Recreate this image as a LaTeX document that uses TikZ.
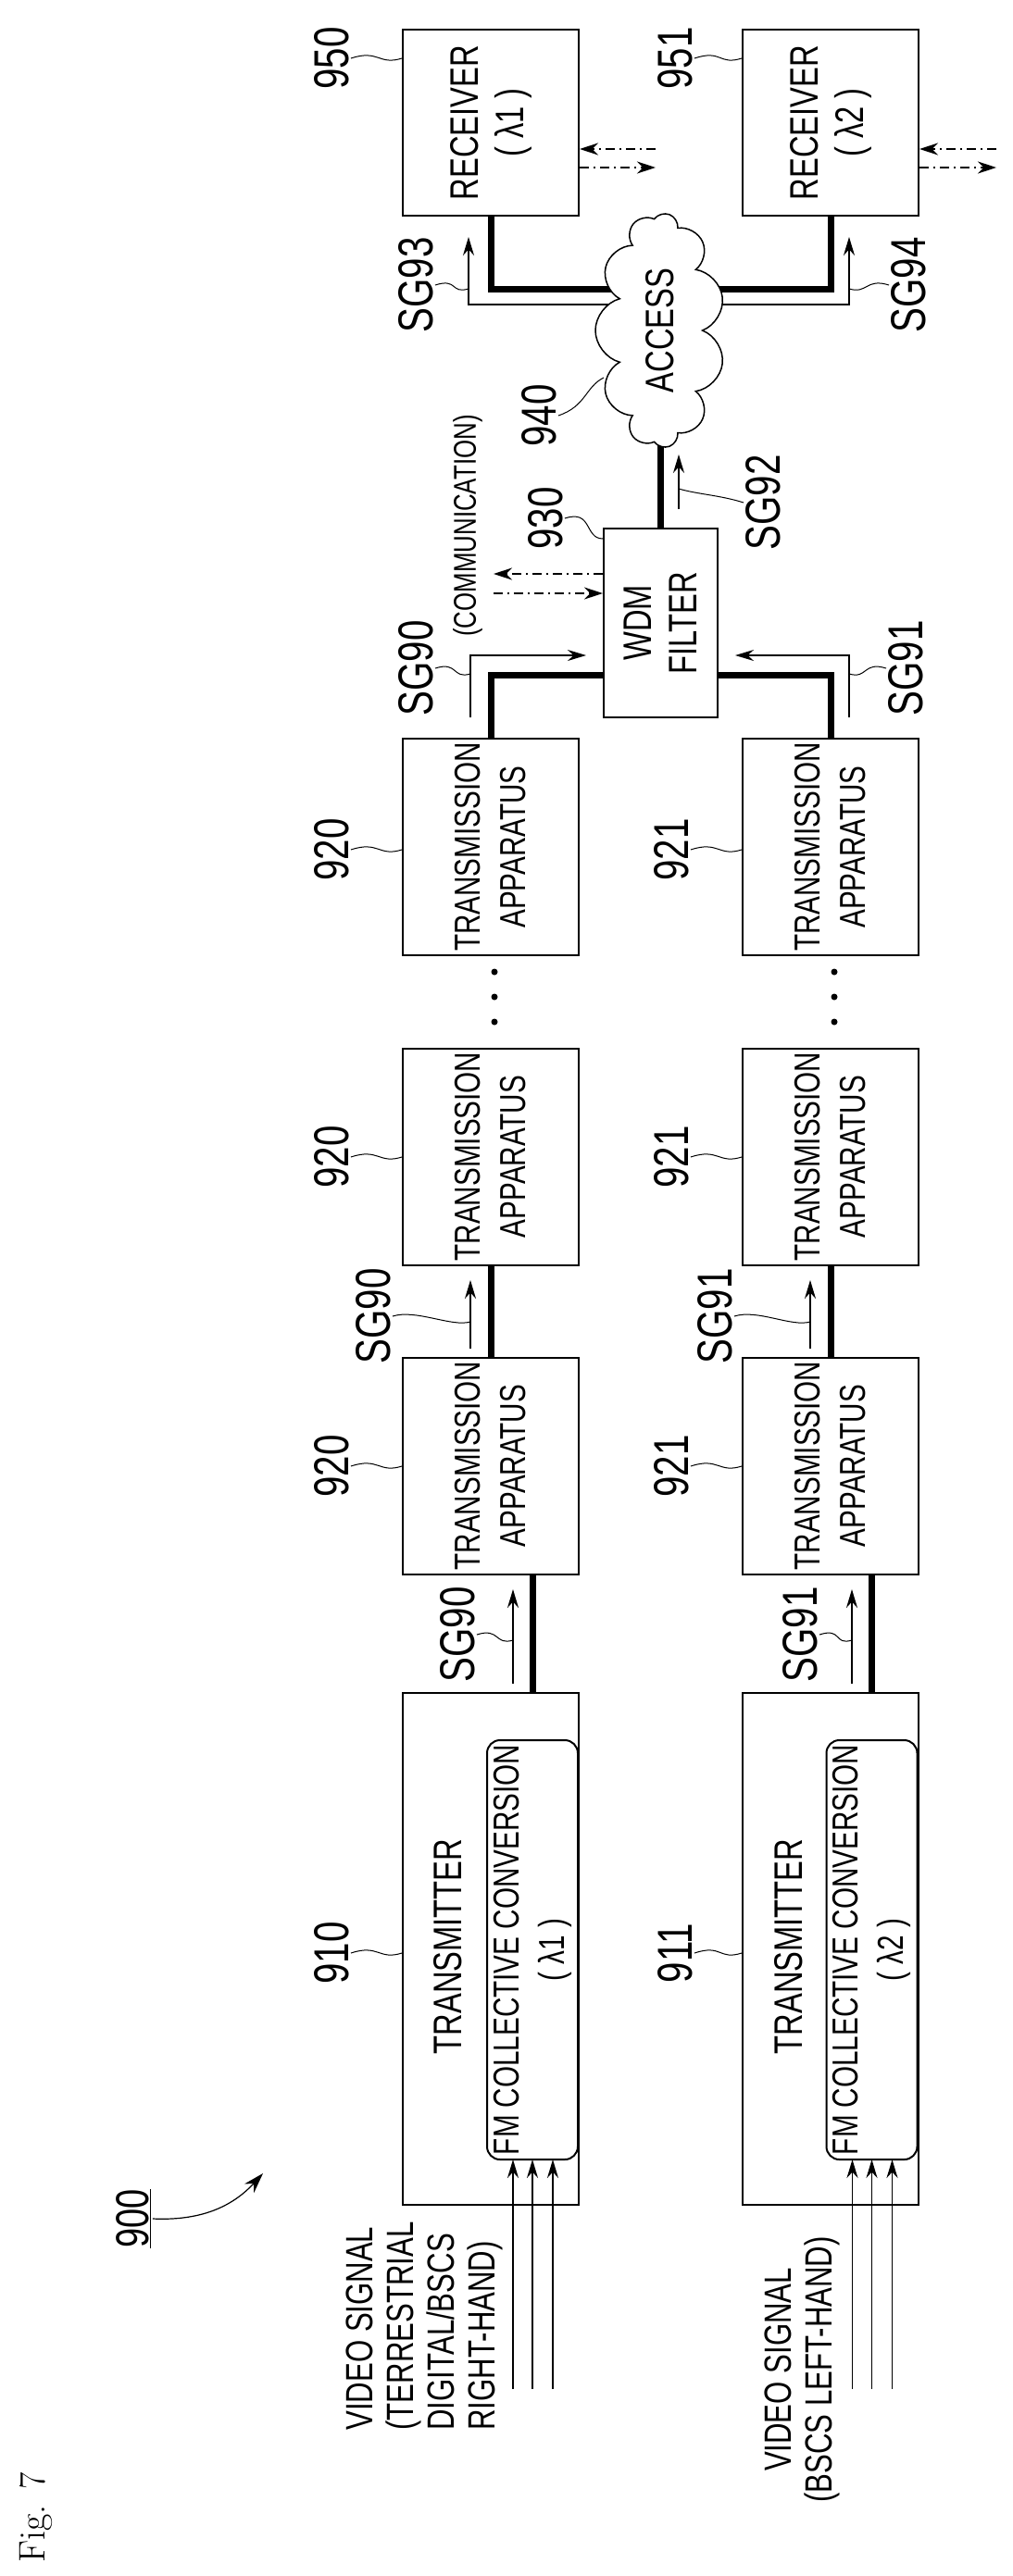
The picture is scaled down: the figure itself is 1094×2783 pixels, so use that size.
\documentclass[tikz,border=0pt]{standalone}
\usepackage{fontspec}
\usetikzlibrary{arrows.meta,shapes.symbols,backgrounds}
\newfontfamily\nar[FakeStretch=0.76]{Liberation Sans}
\tikzset{
  box/.style={draw, line width=2pt, fill=white, rotate=90, inner sep=0pt,
    align=center, font=\nar\fontsize{39}{49}\selectfont},
  txt/.style={rotate=90, inner sep=2pt, font=\nar\fontsize{43}{50}\selectfont},
  lbl/.style={rotate=90, inner sep=2pt, font=\nar\fontsize{53}{60}\selectfont},
  lead/.style={line width=1pt},
  thk/.style={line width=7pt},
  sig/.style={line width=1.6pt, -{Stealth[length=20pt,width=12pt]}},
  comm/.style={line width=1.6pt, dash pattern=on 10pt off 5pt on 2pt off 5pt,
    -{Stealth[length=20pt,width=13pt]}},
}
\begin{document}
\begin{tikzpicture}[x=1pt, y=-1pt]
    \useasboundingbox (0,0) rectangle (1094,2783);
    % receivers and access network
    \node[box, minimum width=201, minimum height=190, font=\nar\fontsize{43}{49}\selectfont] (rx950) at (530,132.5) {RECEIVER\\( λ1 )};
    \node[box, minimum width=201, minimum height=190, font=\nar\fontsize{43}{49}\selectfont] (rx951) at (897,132.5) {RECEIVER\\( λ2 )};
    \node[cloud, cloud puffs=11, cloud ignores aspect, draw, line width=1.5pt, fill=white,
      minimum width=253, minimum height=140, rotate=90, font=\nar\fontsize{43}{49}\selectfont] (acc) at (713,357) {ACCESS};
    \node[box, minimum width=204, minimum height=123, font=\nar\fontsize{43}{49}\selectfont] (wdm) at (713.5,673) {WDM\\FILTER};
    % transmission apparatus chains
    \foreach \nm/\cx in {920/530,921/897} {
        \node[box, minimum width=234, minimum height=190] (ta\nm c) at (\cx,915) {TRANSMISSION\\APPARATUS};
        \node[box, minimum width=234, minimum height=190] (ta\nm b) at (\cx,1249.5) {TRANSMISSION\\APPARATUS};
        \node[box, minimum width=234, minimum height=190] (ta\nm a) at (\cx,1583.5) {TRANSMISSION\\APPARATUS};
        \foreach \dy in {1050,1077,1104}
            \fill (\cx+4,\dy) circle (3.5);
        \node[lbl] (l\nm a) at (\cx-172,1584) {\nm};
        \node[lbl] (l\nm b) at (\cx-172,1250) {\nm};
        \node[lbl] (l\nm c) at (\cx-172,918) {\nm};
        \foreach \k in {a,b,c}
            \draw[lead] (l\nm\k.south) .. controls +(30,-10) and +(-25,8) .. (ta\nm\k.north |- l\nm\k);
    }
    % transmitters
    \node[box, minimum width=553, minimum height=190] (tr910) at (530,2105.5) {};
    \node[box, minimum width=553, minimum height=190] (tr911) at (897,2105.5) {};
    \node[box, rounded corners=14pt, minimum width=453, minimum height=98] (fm910) at (575,2106.5) {FM COLLECTIVE CONVERSION\\( λ1 )};
    \node[box, rounded corners=14pt, minimum width=453, minimum height=98] (fm911) at (941.5,2106.5) {FM COLLECTIVE CONVERSION\\( λ2 )};
    \node[txt] (t910) at (484,2103) {TRANSMITTER};
    \node[txt] (t911) at (852,2103) {TRANSMITTER};
    \node[lbl] (l910) at (358,2110) {910};
    \node[lbl] (l911) at (729,2110) {911};
    \draw[lead] (l910.south) .. controls +(30,-10) and +(-25,8) .. (tr910.north |- l910);
    \draw[lead] (l911.south) .. controls +(30,-10) and +(-25,8) .. (tr911.north |- l911);
    % video inputs
    \foreach \cx in {575,941.5}
        \foreach \dx in {-21,0,22}
            \draw[sig] (\cx+\dx,2581) -- (\cx+\dx,2333);
    \node[txt, align=left, font=\nar\fontsize{41}{44}\selectfont] (v910) at (458,2513) {VIDEO SIGNAL\\(TERRESTRIAL\\DIGITAL/BSCS\\RIGHT-HAND)};
    \node[txt, align=center, font=\nar\fontsize{41}{44}\selectfont] (v911) at (866,2560) {VIDEO SIGNAL\\(BSCS LEFT-HAND)};
    % other labels
    \node[lbl] (l950) at (358,63) {950};
    \node[lbl] (l951) at (729,63) {951};
    \node[lbl] (l930) at (589,560) {930};
    \node[lbl] (l940) at (582,449) {940};
    \node[txt, font=\nar\fontsize{34}{40}\selectfont] (comm) at (505,568) {(COMMUNICATION)};
    \draw[lead] (l950.south) .. controls +(30,-10) and +(-25,8) .. (rx950.north |- l950);
    \draw[lead] (l951.south) .. controls +(30,-10) and +(-25,8) .. (rx951.north |- l951);
    \draw[lead] (l930.south) .. controls +(30,-10) and +(-20,0) .. (wdm.north |- 0,582);
    \draw[lead] (l940.south) .. controls +(30,-10) and +(-20,10) .. (652,408);
    \node[lbl] (s90a) at (494,1766) {SG90};
    \node[lbl] (s90b) at (403,1422) {SG90};
    \node[lbl] (s90c) at (449,722) {SG90};
    \node[lbl] (s91a) at (864,1766) {SG91};
    \node[lbl] (s91b) at (772,1422) {SG91};
    \node[lbl] (s91c) at (978,722) {SG91};
    \node[lbl] (s92) at (824,543) {SG92};
    \node[lbl] (s93) at (449,308) {SG93};
    \node[lbl] (s94) at (981,308) {SG94};
    \draw[lead] (s90a.south) .. controls +(25,-8) and +(-20,6) .. (554,1772);
    \draw[lead] (s90b.south) .. controls +(25,-8) and +(-20,6) .. (508,1428);
    \draw[lead] (s90c.south) .. controls +(25,-8) and +(-20,6) .. (508,728);
    \draw[lead] (s91a.south) .. controls +(25,-8) and +(-20,6) .. (920,1772);
    \draw[lead] (s91b.south) .. controls +(25,-8) and +(-20,6) .. (875,1428);
    \draw[lead] (s91c.north) .. controls +(-25,-8) and +(20,6) .. (917,728);
    \draw[lead] (s92.north) .. controls +(-25,-8) and +(20,6) .. (733,528);
    \draw[lead] (s93.south) .. controls +(25,-8) and +(-20,6) .. (506,312);
    \draw[lead] (s94.north) .. controls +(-25,-8) and +(20,6) .. (917,312);
    % figure labels
    \node[lbl, font=\nar\fontsize{50}{56}\selectfont] (l900) at (144,2397) {\underline{900}};
    \coordinate (c900) at (284,2348);
    \draw[line width=1.2pt, -{Stealth[length=22pt,width=14pt]}] (l900.south) to[bend right=25] (c900);
    \node[rotate=90, font=\fontsize{40}{44}\selectfont] (fig) at (39,2720) {Fig. 7};
    % connections
    \begin{scope}[on background layer]
        \draw[thk] (fm910.east) -- (fm910.east |- ta920a.west);
        \draw[thk] (fm911.east) -- (fm911.east |- ta921a.west);
        \draw[thk] (ta920a.east) -- (ta920b.west);
        \draw[thk] (ta921a.east) -- (ta921b.west);
        \draw[thk] (ta920c.east) |- (wdm |- 0,729);
        \draw[thk] (ta921c.east) |- (wdm |- 0,729);
        \draw[thk] (wdm.east) -- (wdm.center |- acc.center);
        \draw[thk] (rx950.west) |- (acc |- 0,312);
        \draw[thk] (rx951.west) |- (acc |- 0,312);
        \draw[sig] (acc |- 0,329) -| (506,256);
        \draw[sig] (acc |- 0,329) -| (917,256);
    \end{scope}
    \draw[sig] (554,1819) -- (554,1717);
    \draw[sig] (508,1457) -- (508,1383);
    \draw[sig] (920,1819) -- (920,1717);
    \draw[sig] (875,1457) -- (875,1383);
    \draw[sig] (733,550) -- (733,491);
    \draw[sig, shorten >=18pt] (508,775) |- (wdm.north |- 0,708);
    \draw[sig, shorten >=18pt] (917,775) |- (wdm.south |- 0,708);
    % communication lines
    \coordinate (cw1) at (533,620);
    \coordinate (cw2) at (533,641);
    \draw[comm] (wdm.north |- cw1) -- (cw1);
    \draw[comm] (cw2) -- (wdm.north |- cw2);
    \coordinate (cr1) at (708,161);
    \coordinate (cr2) at (708,181);
    \coordinate (cs1) at (1076,161);
    \coordinate (cs2) at (1076,181);
    \draw[comm] (cr1) -- (rx950.south |- cr1);
    \draw[comm] (rx950.south |- cr2) -- (cr2);
    \draw[comm] (cs1) -- (rx951.south |- cs1);
    \draw[comm] (rx951.south |- cs2) -- (cs2);
\end{tikzpicture}
\end{document}
